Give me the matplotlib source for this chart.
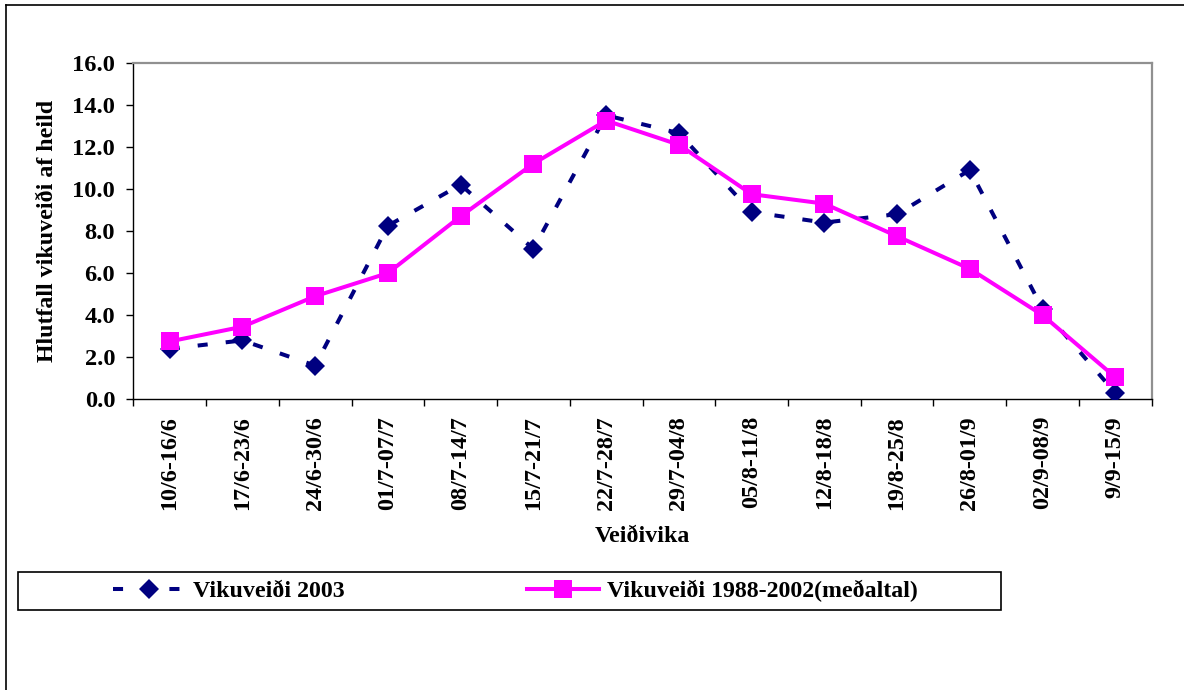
import numpy as np
import matplotlib
matplotlib.use("Agg")
import matplotlib.pyplot as plt
from matplotlib.lines import Line2D
from matplotlib.patches import Rectangle
from matplotlib.ticker import FixedLocator, FormatStrFormatter

# gögn lesin af myndinni
weeks = ['10/6-16/6', '17/6-23/6', '24/6-30/6', '01/7-07/7', '08/7-14/7',
         '15/7-21/7', '22/7-28/7', '29/7-04/8', '05/8-11/8', '12/8-18/8',
         '19/8-25/8', '26/8-01/9', '02/9-08/9', '9/9-15/9']
catch_2003 = [2.4, 2.8, 1.6, 8.25, 10.2, 7.15, 13.5, 12.65, 8.9, 8.4, 8.8, 10.9, 4.3, 0.3]
catch_avg = [2.75, 3.45, 4.9, 6.0, 8.7, 11.2, 13.25, 12.1, 9.75, 9.3, 7.75, 6.2, 4.0, 1.05]
yticks = [0, 2, 4, 6, 8, 10, 12, 14, 16]

label_2003 = 'Vikuveiði 2003'
label_avg = 'Vikuveiði 1988-2002(meðaltal)'

plt.rcParams['font.family'] = ['Liberation Serif', 'DejaVu Serif']
plt.rcParams['font.weight'] = 'bold'
fs = 17.2

W, H = 1184, 690
dpi = 100
fig = plt.figure(figsize=(W / dpi, H / dpi), dpi=dpi)
fig.patch.set_facecolor('white')

def fx(px):
    return px / W

def fy(py):
    return 1 - py / H

ax_l, ax_r, ax_t, ax_b = 133.3, 1151.7, 62.7, 399.3
ax = fig.add_axes([fx(ax_l), fy(ax_b), fx(ax_r) - fx(ax_l), fy(ax_t) - fy(ax_b)])

x = np.arange(len(weeks))
l1, = ax.plot(x, catch_2003, color='#000080', lw=2.9, dashes=(2.5, 4.5),
              marker='D', markersize=9.7, markeredgewidth=0, label=label_2003, zorder=3)
l2, = ax.plot(x, catch_avg, color='#FF00FF', lw=2.9, marker='s',
              markersize=13, markeredgewidth=0, label=label_avg, zorder=4)

ax.set_xlim(-0.5, len(weeks) - 0.5)
ax.set_ylim(0, 16)
ax.set_yticks(yticks)
ax.yaxis.set_major_formatter(FormatStrFormatter('%.1f'))
ax.set_xticks(x)
ax.set_xticklabels(weeks, rotation=90)
ax.xaxis.set_minor_locator(FixedLocator(np.arange(len(weeks) + 1) - 0.5))
ax.tick_params(axis='x', which='major', length=0, pad=12, labelsize=17.4)
ax.tick_params(axis='x', which='minor', length=5, direction='out', width=1)
ax.tick_params(axis='y', length=5, direction='out', width=1, pad=8, labelsize=17.6)

for s in ['top', 'right']:
    ax.spines[s].set_color('#909090')
    ax.spines[s].set_linewidth(1.6)
for s in ['left', 'bottom']:
    ax.spines[s].set_color('black')
    ax.spines[s].set_linewidth(1.0)

ax.set_ylabel('Hlutfall vikuveiði af heild', fontsize=fs, fontweight='bold')
ax.yaxis.set_label_coords(-0.074, 0.5)
ax.set_xlabel('Veiðivika', fontsize=fs, fontweight='bold')
ax.xaxis.set_label_coords(0.5, -0.375)

# rammi utan um allt
fig.add_artist(Line2D([fx(5.5), fx(5.5)], [0, fy(5)], color='black', lw=1.2))
fig.add_artist(Line2D([fx(5.5), 1], [fy(5), fy(5)], color='black', lw=1.2))

# skýringar
fig.add_artist(Rectangle((fx(17.5), fy(610)), fx(1000.5) - fx(17.5), fy(572) - fy(610),
                         fill=False, edgecolor='black', lw=1.2))
kw = dict(loc='center left', frameon=False, fontsize=17.2, handlelength=3.0,
          handletextpad=0.35, borderpad=0, borderaxespad=0, numpoints=1)
fig.legend(handles=[l1], bbox_to_anchor=(fx(113), fy(591)), **kw)
fig.legend(handles=[l2], bbox_to_anchor=(fx(527), fy(591)), **kw)

fig.savefig('out.png', dpi=dpi, facecolor='white')
